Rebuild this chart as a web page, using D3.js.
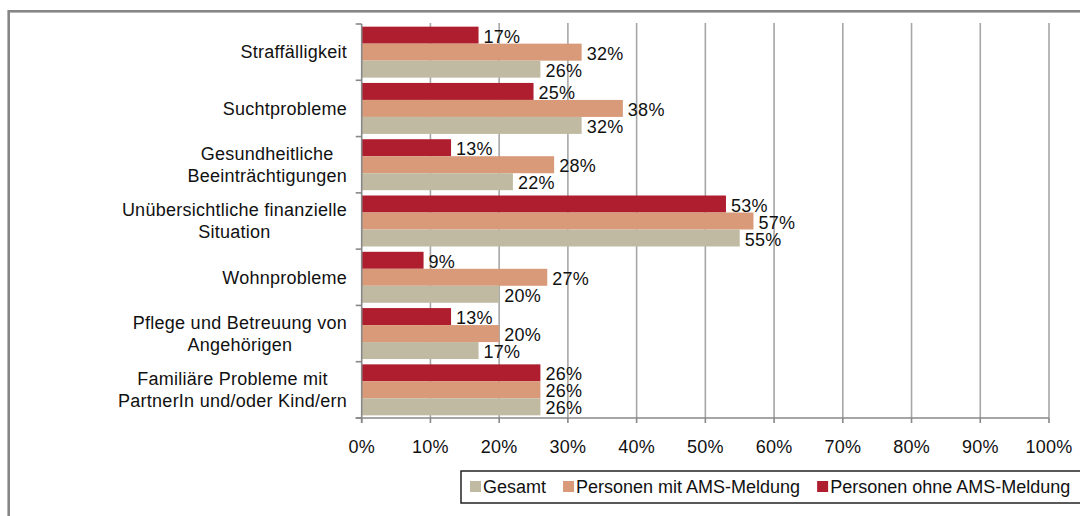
<!DOCTYPE html>
<html>
<head>
<meta charset="utf-8">
<script src="https://cdn.jsdelivr.net/npm/d3@7"></script>
<style>
  body { margin: 0; background: #fff; }
  svg { display: block; font-family: "Liberation Sans", Arial, sans-serif; }
</style>
</head>
<body>
<div class="graph"></div>
<script>
// data
const categories = [
  ["Straffälligkeit"],
  ["Suchtprobleme"],
  ["Gesundheitliche", "Beeinträchtigungen"],
  ["Unübersichtliche finanzielle", "Situation"],
  ["Wohnprobleme"],
  ["Pflege und Betreuung von", "Angehörigen"],
  ["Familiäre Probleme mit", "PartnerIn und/oder Kind/ern"]
];
const seriesNames = ["Personen ohne AMS-Meldung", "Personen mit AMS-Meldung", "Gesamt"];
const ohneValues = [17, 25, 13, 53, 9, 13, 26];
const mitValues = [32, 38, 28, 57, 27, 20, 26];
const gesamtValues = [26, 32, 22, 55, 20, 17, 26];
const xTicks = [0, 10, 20, 30, 40, 50, 60, 70, 80, 90, 100];
const legendOrder = ["Gesamt", "Personen mit AMS-Meldung", "Personen ohne AMS-Meldung"];

const colours = {
  "Personen ohne AMS-Meldung": "#AE1E2E",
  "Personen mit AMS-Meldung": "#D89A79",
  "Gesamt": "#C0BAA2"
};

// dimensions
const width = 1080, height = 516;
const plot = { left: 361.7, right: 1049, top: 24, bottom: 418 };

const svg = d3.select(".graph").append("svg")
  .attr("width", width)
  .attr("height", height);

// outer frame
svg.append("rect")
  .attr("x", 8.7).attr("y", 11.3)
  .attr("width", 1100).attr("height", 530)
  .attr("fill", "none")
  .attr("stroke", "#868686")
  .attr("stroke-width", 2.6);

const x = d3.scaleLinear().domain([0, 100]).range([plot.left, plot.right]);
const y = d3.scaleBand().domain(d3.range(categories.length)).range([plot.top, plot.bottom]);
const ySeries = d3.scaleBand().domain(seriesNames).range([0, y.bandwidth()]).paddingOuter(0.156);

// gridlines
svg.append("g").selectAll("line")
  .data(xTicks.slice(1))
  .join("line")
  .attr("x1", d => x(d)).attr("x2", d => x(d))
  .attr("y1", plot.top - 1).attr("y2", plot.bottom)
  .attr("stroke", "#a6a6a6")
  .attr("stroke-width", 1.6);

// bars
const rows = categories.map((c, i) => ({
  i,
  values: [
    { s: seriesNames[0], v: ohneValues[i] },
    { s: seriesNames[1], v: mitValues[i] },
    { s: seriesNames[2], v: gesamtValues[i] }
  ]
}));

const groups = svg.append("g").selectAll("g")
  .data(rows)
  .join("g")
  .attr("transform", d => "translate(0," + y(d.i) + ")");

groups.selectAll("rect")
  .data(d => d.values)
  .join("rect")
  .attr("x", x(0))
  .attr("y", d => ySeries(d.s))
  .attr("width", d => x(d.v) - x(0))
  .attr("height", ySeries.bandwidth())
  .attr("fill", d => colours[d.s]);

groups.selectAll("text")
  .data(d => d.values)
  .join("text")
  .attr("x", d => x(d.v) + 5)
  .attr("y", d => ySeries(d.s) + ySeries.bandwidth() / 2)
  .attr("dy", "0.42em")
  .attr("font-size", 18)
  .attr("letter-spacing", 0.25)
  .attr("fill", "#111")
  .text(d => d.v + "%");

// axes
const axisColour = "#888";
svg.append("line")
  .attr("x1", x(0)).attr("x2", x(0))
  .attr("y1", plot.top).attr("y2", plot.bottom + 5)
  .attr("stroke", axisColour).attr("stroke-width", 1.6);
svg.append("line")
  .attr("x1", x(0) - 6).attr("x2", plot.right)
  .attr("y1", plot.bottom).attr("y2", plot.bottom)
  .attr("stroke", axisColour).attr("stroke-width", 1.6);

// y ticks at band boundaries
svg.append("g").selectAll("line")
  .data(d3.range(categories.length + 1))
  .join("line")
  .attr("x1", x(0) - 6).attr("x2", x(0))
  .attr("y1", d => plot.top + d * y.step())
  .attr("y2", d => plot.top + d * y.step())
  .attr("stroke", axisColour).attr("stroke-width", 1.6);

// x ticks + labels
svg.append("g").selectAll("line")
  .data(xTicks)
  .join("line")
  .attr("x1", d => x(d)).attr("x2", d => x(d))
  .attr("y1", plot.bottom).attr("y2", plot.bottom + 5)
  .attr("stroke", axisColour).attr("stroke-width", 1.6);

svg.append("g").selectAll("text")
  .data(xTicks)
  .join("text")
  .attr("x", d => x(d))
  .attr("y", 453)
  .attr("text-anchor", "middle")
  .attr("font-size", 18)
  .attr("letter-spacing", 0.25)
  .attr("fill", "#111")
  .text(d => d + "%");

// category labels: block right aligned, lines centred
const labelRight = 347;
categories.forEach((lines, i) => {
  const t = svg.append("text")
    .attr("font-size", 18)
    .attr("letter-spacing", 0.25)
    .attr("fill", "#111")
    .attr("text-anchor", "middle");
  const cy = y(i) + y.bandwidth() / 2;
  const spans = lines.map((l, j) => t.append("tspan")
    .attr("y", cy + (j - (lines.length - 1) / 2) * 22)
    .attr("dy", "0.35em")
    .text(l));
  const maxW = d3.max(spans, s => s.node().getComputedTextLength());
  spans.forEach(s => s.attr("x", labelRight - maxW / 2));
});

// legend
const legend = svg.append("g");
legend.append("rect")
  .attr("x", 461).attr("y", 471)
  .attr("width", 640).attr("height", 32)
  .attr("fill", "#fff")
  .attr("stroke", "#222")
  .attr("stroke-width", 1.5);

let lx = 470;
legendOrder.forEach(name => {
  legend.append("rect")
    .attr("x", lx).attr("y", 481)
    .attr("width", 11).attr("height", 11)
    .attr("fill", colours[name]);
  const t = legend.append("text")
    .attr("x", lx + 13)
    .attr("y", 487)
    .attr("dy", "0.35em")
    .attr("font-size", 18)
    .attr("fill", "#111")
    .text(name);
  lx += 13 + t.node().getComputedTextLength() + 17;
});
</script>
</body>
</html>
